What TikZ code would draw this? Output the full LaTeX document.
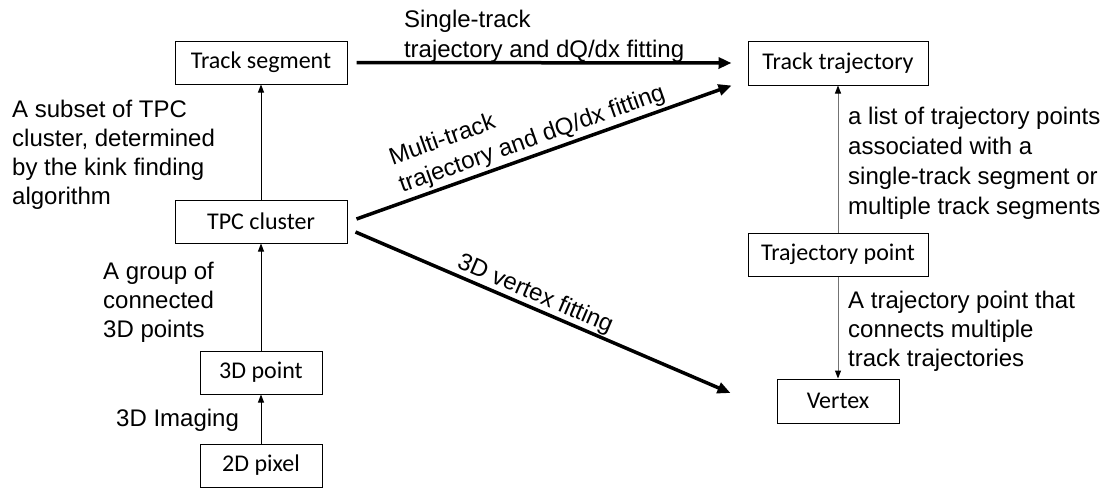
\documentclass[tikz,border=0pt]{standalone}
\usepackage{fontspec}
\setmainfont{Liberation Sans}
\newfontfamily\boxfont{Carlito}
\usetikzlibrary{arrows.meta,calc}
\tikzset{
  box/.style={draw, line width=1pt, inner sep=0pt, font=\boxfont\fontsize{24}{29}\selectfont},
  txt/.style={inner sep=0pt, align=left, anchor=north west, font=\fontsize{24}{29}\selectfont},
  txtw/.style={inner sep=0pt, align=left, anchor=north west, font=\fontsize{24}{30}\selectfont},
  lbl/.style={sloped, align=left, font=\fontsize{24}{29.5}\selectfont},
  thinarrow/.style={line width=0.9pt, -{Triangle[length=8pt,width=6pt]}},
  thinarrowg/.style={line width=1pt, draw=black!55, -{Triangle[length=8pt,width=6pt,color=black]}},
  thickarrow/.style={line width=3.5pt, -{Triangle[length=13pt,width=11pt]}}
}
\begin{document}
\begin{tikzpicture}[x=1pt,y=1pt]
\useasboundingbox (0,-488) rectangle (1112,0);
% boxes
\node[box, minimum width=172pt, minimum height=43pt] (seg) at (261,-62.5) {Track segment};
\node[box, minimum width=172pt, minimum height=43pt] (tpc) at (261,-221.5) {TPC cluster};
\node[box, minimum width=122pt, minimum height=43pt] (p3d) at (261,-372.5) {3D point};
\node[box, minimum width=122pt, minimum height=43pt] (pix) at (261,-465.5) {2D pixel};
\node[box, minimum width=180pt, minimum height=44pt] (traj) at (838,-63) {Track trajectory};
\node[box, minimum width=180pt, minimum height=43pt] (tpt) at (838,-254.5) {Trajectory point};
\node[box, minimum width=122pt, minimum height=44pt] (vtx) at (838,-401) {Vertex};
% thin arrows
\draw[thinarrow] (pix) -- (p3d);
\draw[thinarrow] (p3d) -- (tpc);
\draw[thinarrow] (tpc) -- (seg);
\draw[thinarrowg] (tpt) -- (traj);
\draw[thinarrowg] (tpt) -- (vtx);
% thick arrows
\draw[thickarrow] ($(seg.east)+(9,0)$) -- ($(traj.west)+(-16,0)$)
  node[lbl, pos=0.122, anchor=south west, inner sep=0pt, yshift=-1.5pt] {Single-track\\trajectory and dQ/dx fitting};
\draw[thickarrow] ($(tpc.east)+(9,2.5)$) -- ($(traj.south west)+(-16,0)$)
  node[lbl, pos=0.12, anchor=south west, inner sep=2.5pt] {Multi-track\\trajectory and dQ/dx fitting};
\draw[thickarrow] ($(tpc.east)+(8,-10.5)$) -- ($(vtx.west)+(-46,8)$)
  node[lbl, pos=0.255, anchor=south west, inner sep=0.5pt] {3D vertex fitting};
% free labels
\node[txt] (t1) at (12,-100) {A subset of TPC\\cluster, determined\\by the kink finding\\algorithm};
\node[txt] (t2) at (103,-262) {A group of\\connected\\3D points};
\node[txt] (t3) at (116,-409) {3D Imaging};
\node[txtw] (t4) at (848,-107) {a list of trajectory points\\associated with a\\single-track segment or\\multiple track segments};
\node[txt] (t5) at (848,-291) {A trajectory point that\\connects multiple\\track trajectories};
\end{tikzpicture}
\end{document}
